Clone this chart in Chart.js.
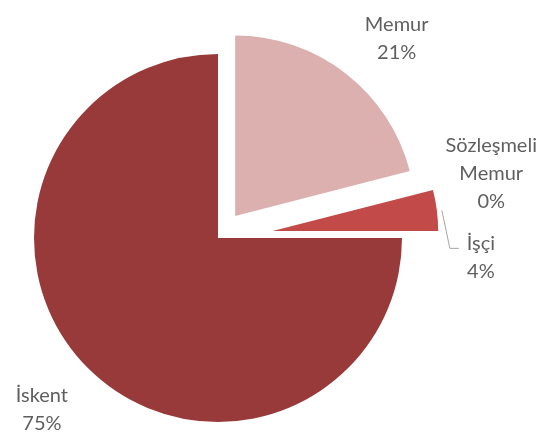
<!DOCTYPE html>
<html>
<head>
<meta charset="utf-8">
<script src="https://cdn.jsdelivr.net/npm/chart.js@4.4.0/dist/chart.umd.min.js"></script>
<style>
  html, body { margin: 0; padding: 0; background: #ffffff; }
  #wrap { width: 544px; height: 437px; position: relative; }
</style>
</head>
<body>
<div id="wrap"><canvas id="pie-chart"></canvas></div>
<script>
const categories = ["Memur", "Sözleşmeli Memur", "İşçi", "İskent"];
const shares = [21, 0, 4, 75];
const sliceColors = ["#ddb0b0", "#c0504d", "#c24a48", "#983a39"];

// how far each slice is pulled out of the pie (px) and its size relative to the pie
const explodeBy = [28, 0, 55, 0];
const sizeBy = [0.98, 1, 0.9, 1];

// label offset from the middle of each slice's outer edge
const labelShift = [[51, -35], [95, -19], [44, 47], [-46, 41]];

const explodePlugin = {
  id: "explode",
  afterDatasetUpdate(chart, args) {
    args.meta.data.forEach(function (arc, i) {
      const mid = (arc.startAngle + arc.endAngle) / 2;
      arc.x += Math.cos(mid) * explodeBy[i];
      arc.y += Math.sin(mid) * explodeBy[i];
      arc.outerRadius *= sizeBy[i];
    });
  },
};

const labelPlugin = {
  id: "sliceLabels",
  afterDatasetsDraw(chart) {
    const ctx = chart.ctx;
    const arcs = chart.getDatasetMeta(0).data;
    const total = shares.reduce((a, b) => a + b, 0);
    const lineH = 28;
    ctx.save();
    ctx.font = "20px Lato";
    ctx.fillStyle = "#5f5f5f";
    ctx.textAlign = "center";
    ctx.textBaseline = "middle";
    arcs.forEach(function (arc, i) {
      const mid = (arc.startAngle + arc.endAngle) / 2;
      const px = arc.x + Math.cos(mid) * arc.outerRadius;
      const py = arc.y + Math.sin(mid) * arc.outerRadius;
      const cx = px + labelShift[i][0];
      const cy = py + labelShift[i][1];
      const lines = categories[i].split(" ");
      lines.push(Math.round((shares[i] / total) * 100) + "%");
      const top = cy - ((lines.length - 1) * lineH) / 2;
      lines.forEach(function (t, k) {
        ctx.fillText(t, cx, top + k * lineH);
      });
      // leader line for the small slice
      if (i === 2) {
        ctx.strokeStyle = "#a6a6a6";
        ctx.lineWidth = 1;
        ctx.beginPath();
        ctx.moveTo(px + 5, py);
        ctx.lineTo(cx - 31, top + 5);
        ctx.lineTo(cx - 22, top + 5);
        ctx.stroke();
      }
    });
    ctx.restore();
  },
};

new Chart(document.getElementById("pie-chart"), {
  type: "pie",
  data: {
    labels: categories,
    datasets: [
      {
        data: shares,
        backgroundColor: sliceColors,
        borderWidth: 0,
      },
    ],
  },
  options: {
    responsive: true,
    maintainAspectRatio: false,
    animation: false,
    events: [],
    radius: 184,
    layout: {
      padding: { left: 0, right: 108, top: 39, bottom: 0 },
    },
    plugins: {
      legend: { display: false },
      tooltip: { enabled: false },
    },
  },
  plugins: [explodePlugin, labelPlugin],
});
</script>
</body>
</html>
